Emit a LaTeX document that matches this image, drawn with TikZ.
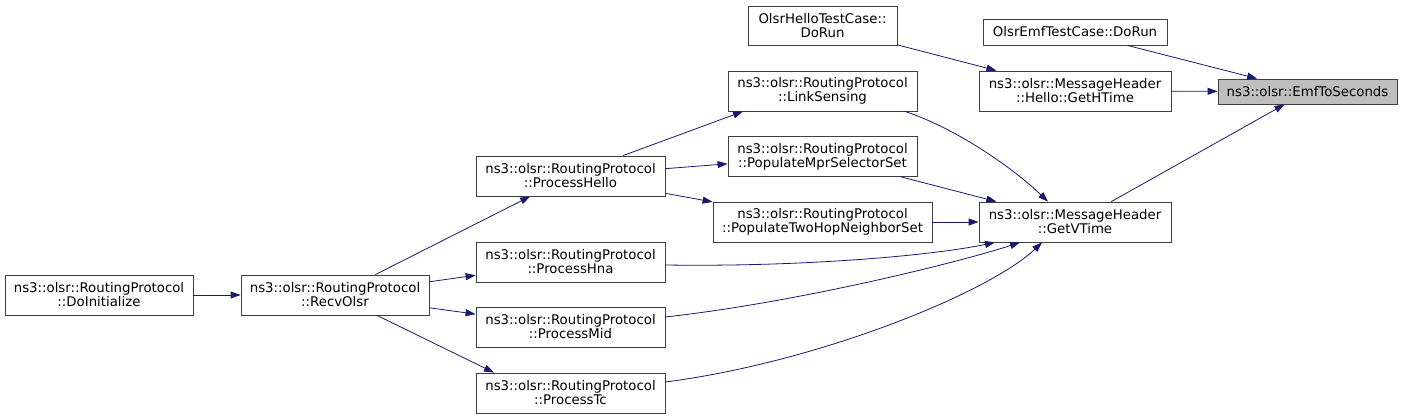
\documentclass[tikz,border=0pt]{standalone}
\usepackage{fontspec}
\setmainfont{DejaVu Sans}
\usetikzlibrary{arrows.meta}
\definecolor{edgeblue}{HTML}{191970}
\definecolor{hilite}{HTML}{BFBFBF}
\begin{document}
\begin{tikzpicture}[x=1pt,y=-1pt,
  fn/.style={draw=black!75, line width=0.8pt, inner sep=0pt, minimum height=40pt,
    align=center, font=\fontsize{13.3}{14}\selectfont},
  call/.style={draw=edgeblue, line width=0.8pt, -{Triangle[length=10pt,width=7pt]}}]
\useasboundingbox (0,0) rectangle (1403,419);

% right column
\node[fn, fill=hilite, minimum width=179pt, minimum height=25pt] (emf) at (1307.5,91.5) {ns3::olsr::EmfToSeconds};
\node[fn, minimum width=184pt, minimum height=26pt] (emftest) at (1075,32) {OlsrEmfTestCase::DoRun};
\node[fn, minimum width=192pt] (htime) at (1075,91) {ns3::olsr::MessageHeader\\::Hello::GetHTime};
\node[fn, minimum width=192pt] (vtime) at (1075,222) {ns3::olsr::MessageHeader\\::GetVTime};

% middle column
\node[fn, minimum width=149pt, minimum height=39pt] (hellotest) at (822.5,25.5) {OlsrHelloTestCase::\\DoRun};
\node[fn, minimum width=189pt] (linksense) at (822.5,91) {ns3::olsr::RoutingProtocol\\::LinkSensing};
\node[fn, minimum width=189pt] (mprsel) at (822.5,156.5) {ns3::olsr::RoutingProtocol\\::PopulateMprSelectorSet};
\node[fn, minimum width=219pt] (twohop) at (822.5,222) {ns3::olsr::RoutingProtocol\\::PopulateTwoHopNeighborSet};

% process handlers
\node[fn, minimum width=189pt] (prochello) at (570.5,176) {ns3::olsr::RoutingProtocol\\::ProcessHello};
\node[fn, minimum width=189pt] (prochna) at (570.5,262) {ns3::olsr::RoutingProtocol\\::ProcessHna};
\node[fn, minimum width=189pt] (procmid) at (570.5,327) {ns3::olsr::RoutingProtocol\\::ProcessMid};
\node[fn, minimum width=189pt] (proctc) at (570.5,393) {ns3::olsr::RoutingProtocol\\::ProcessTc};

% left
\node[fn, minimum width=188pt] (recv) at (335,295) {ns3::olsr::RoutingProtocol\\::RecvOlsr};
\node[fn, minimum width=188pt] (doinit) at (99,295) {ns3::olsr::RoutingProtocol\\::DoInitialize};

% calls
\draw[call] (doinit) -- (recv);
\draw[call] (recv) -- (prochello);
\draw[call] (recv) -- (prochna);
\draw[call] (recv) -- (procmid);
\draw[call] ([xshift=42pt]recv.south) -- ([xshift=-76.5pt]proctc.north);

\draw[call] ([xshift=52.5pt]prochello.north) -- ([xshift=-79.5pt]linksense.south);
\draw[call] (prochello) -- (mprsel);
\draw[call] (prochello) -- (twohop);

\draw[call] ([xshift=82.5pt]linksense.south) .. controls (960,130) and (1015,170) .. ([xshift=-27pt]vtime.north);
\draw[call] (mprsel) -- (vtime);
\draw[call] (twohop) -- (vtime);
\draw[call] ([yshift=-3pt]prochna.east) .. controls (800,267) and (930,256) .. ([xshift=-80pt]vtime.south);
\draw[call] ([yshift=10pt]procmid.east) .. controls (800,302) and (960,262) .. ([xshift=-55pt]vtime.south);
\draw[call] ([yshift=11pt]proctc.east) .. controls (820,362) and (990,292) .. ([xshift=-33pt]vtime.south);

\draw[call] (hellotest) -- (htime);
\draw[call] (vtime) -- (emf);
\draw[call] (htime) -- (emf);
\draw[call] (emftest) -- (emf);
\end{tikzpicture}
\end{document}
